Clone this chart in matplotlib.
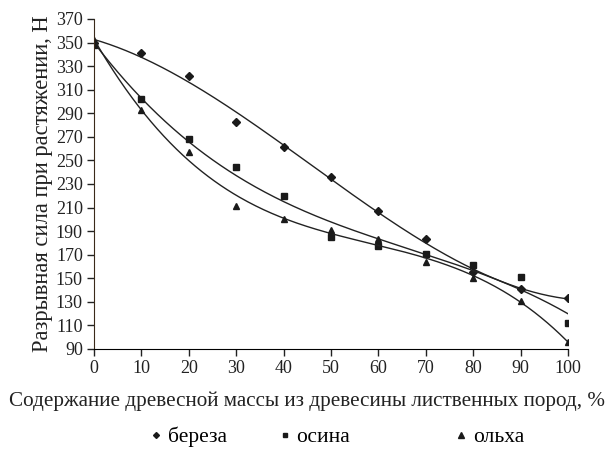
import numpy as np
import matplotlib
matplotlib.use("Agg")
import matplotlib.pyplot as plt

plt.rcParams['font.family'] = ['Liberation Serif', 'DejaVu Serif']

x = [0, 10, 20, 30, 40, 50, 60, 70, 80, 90, 100]
bereza = [350, 341, 322, 283, 261, 236, 207, 183, 155, 141, 133]
osina = [348, 302, 268, 244, 220, 185, 177, 171, 161, 151, 112]
olkha = [352, 293, 257, 211, 200, 191, 183, 164, 150, 131, 96]
labels = ['береза', 'осина', 'ольха']
markers = ['D', 's', '^']
msizes = [4, 4.5, 5]
yticks = list(range(90, 371, 20))
xticks = list(range(0, 101, 10))

fig = plt.figure(figsize=(6.14, 4.65), dpi=100)
ax = fig.add_axes([0.153, 0.2495, 0.772, 0.7097])

xs = np.linspace(0, 100, 300)
handles = []
for ys, m, ms, lab in zip([bereza, osina, olkha], markers, msizes, labels):
    c = np.polyfit(x, ys, 3)
    ax.plot(xs, np.polyval(c, xs), color='#222222', lw=1.0)
    h, = ax.plot(x, ys, linestyle='none', marker=m, markersize=ms,
                 color='#1a1a1a', label=lab)
    handles.append(h)

ax.set_xlim(0, 100)
ax.set_ylim(90, 370)
ax.set_xticks(xticks)
ax.set_yticks(yticks)
ax.spines['top'].set_visible(False)
ax.spines['right'].set_visible(False)
ax.spines['left'].set_color('#3a2a1a')
ax.tick_params(direction='out', length=5, width=1, labelsize=13, pad=3, colors='#222222')
ax.set_ylabel('Разрывная сила при растяжении, Н', fontsize=16.3, color='#222222', labelpad=2)
ax.set_xlabel('Содержание древесной массы из древесины лиственных пород, %',
              fontsize=15.2, color='#222222')
ax.xaxis.set_label_coords(0.449, -0.13)

legend_x = [0.245, 0.455, 0.742]
for h, lab, lx in zip(handles, labels, legend_x):
    fig.legend([h], [lab], loc='center left', bbox_to_anchor=(lx, 0.06),
               frameon=False, fontsize=15.5, handlelength=0.5,
               handletextpad=0.3, markerscale=0.75, borderpad=0, borderaxespad=0)

fig.savefig('out.png', dpi=100)
